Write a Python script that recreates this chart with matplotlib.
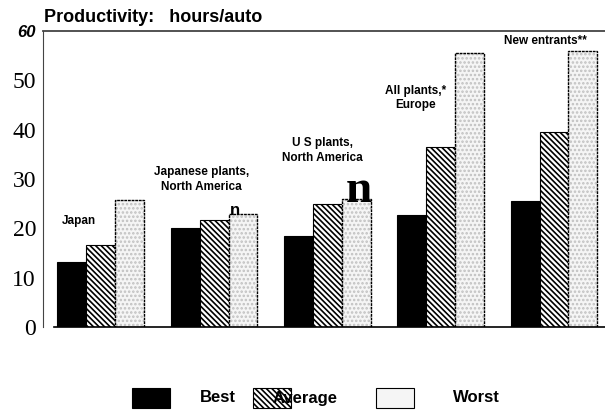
import matplotlib
matplotlib.use("Agg")
import matplotlib.pyplot as plt
from matplotlib.patches import Rectangle
import numpy as np

# Data (hours per auto)
groups = ["Japan", "Japanese plants,\nNorth America", "U S plants,\nNorth America",
          "All plants,*\nEurope", "New entrants**"]
series = ["Best", "Average", "Worst"]
best = [13.2, 20.1, 18.5, 22.8, 25.6]
average = [16.7, 21.7, 25.0, 36.4, 39.6]
worst = [25.8, 23.0, 26.0, 55.5, 56.0]
yticks = [0, 10, 20, 30, 40, 50, 60]

plt.rcParams["hatch.linewidth"] = 1.2
SANS = ["Liberation Sans", "DejaVu Sans"]
SERIF = ["Liberation Serif", "DejaVu Serif"]

fig = plt.figure(figsize=(6.05, 4.12), dpi=100)
ax = fig.add_axes([0.071, 0.206, 0.929, 0.719])

x = np.arange(len(groups))
w = 0.255
ax.bar(x - w, best, w, color="black", edgecolor="black", linewidth=0.8)
ax.bar(x, average, w, color="white", edgecolor="black", hatch="\\" * 6, linewidth=0.8)
ax.bar(x + w, worst, w, color="#f5f5f5", edgecolor="#c0c0c0", hatch="....", linewidth=0)
ax.bar(x + w, worst, w, color="none", edgecolor="black", linewidth=1.0, linestyle=(0, (2, 0.6)))

ax.set_xlim(-0.51, 4.45)
ax.set_ylim(0, 60)
ax.set_xticks([])
ax.set_yticks(yticks)
ax.set_yticklabels([str(v) for v in yticks[:-1]] + [""])
for lab in ax.get_yticklabels():
    lab.set_fontfamily(SERIF)
    lab.set_fontsize(17)
ax.tick_params(axis="y", length=0, pad=5)
ax.text(-0.013, 59.6, "60", transform=ax.get_yaxis_transform(), ha="right", va="center",
        fontsize=12, fontweight="bold", fontstyle="italic", family=SANS)

for s in ["right", "bottom"]:
    ax.spines[s].set_visible(False)
ax.spines["left"].set_color("#444444")
ax.spines["top"].set_color("#444444")
ax.spines["top"].set_linewidth(1.3)
ax.axhline(0, xmin=0.02, xmax=1, color="black", linewidth=1.2, clip_on=False)

# category labels
label_pos = [(-0.19, 21.4), (0.89, 29.9), (1.96, 35.8), (2.78, 46.4), (3.92, 58.0)]
for name, (lx, ly) in zip(groups, label_pos):
    t = ax.text(lx, ly, name, ha="center", va="center", fontsize=8.5, fontweight="bold",
                family=SANS, linespacing=1.25)
    t.set_fontstretch("condensed")

# stray marks from the scanned original
ax.text(1.18, 22.8, "n", ha="center", va="baseline", fontsize=12, fontweight="bold", family=SANS)
ax.text(2.28, 25.4, "n", ha="center", va="baseline", fontsize=34, fontweight="bold", family=SERIF)

fig.text(0.072, 0.958, "Productivity:   hours/auto", ha="left", va="center",
         fontsize=13, fontweight="bold", family=SANS)

# legend drawn by hand at the bottom
styles = [dict(facecolor="black", edgecolor="black"),
          dict(facecolor="white", edgecolor="black", hatch="\\" * 6),
          dict(facecolor="#f5f5f5", edgecolor="black")]
box_x = [132, 253, 376]
text_x = [200, 273, 453]
for name, st, bx, tx in zip(series, styles, box_x, text_x):
    fig.patches.append(Rectangle((bx / 605, 1 - 408 / 412), 38 / 605, 20 / 412,
                                 transform=fig.transFigure, linewidth=0.8, **st))
    fig.text(tx / 605, 1 - 398 / 412, name, ha="left", va="center", fontsize=12,
             fontweight="bold", family=SANS)

fig.savefig("out.png", dpi=100)
